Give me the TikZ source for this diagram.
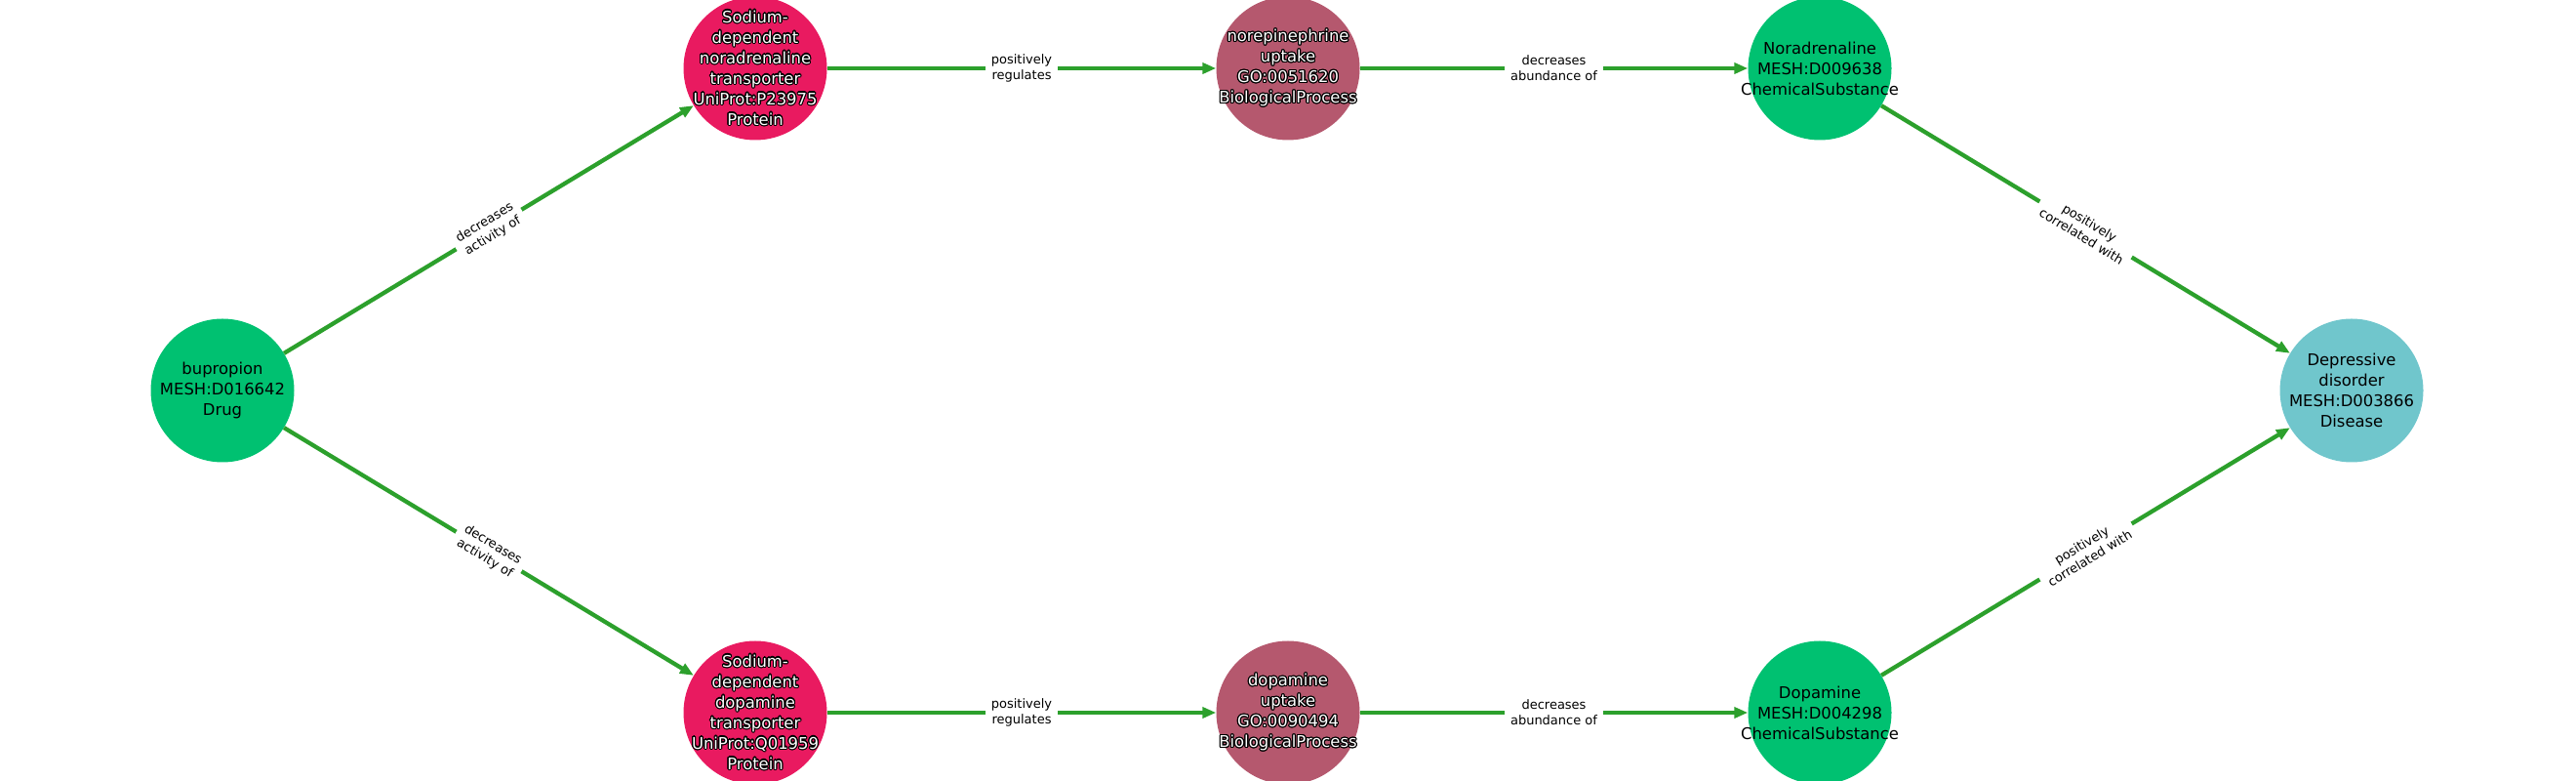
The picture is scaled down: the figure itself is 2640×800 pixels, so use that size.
\documentclass[tikz,border=0pt]{standalone}
\usepackage{fontspec}
\setmainfont{DejaVu Sans}
\usepackage{contour}
\contourlength{1.1pt}
\usetikzlibrary{arrows.meta}
\definecolor{Chem}{RGB}{0,193,113}
\definecolor{Prot}{RGB}{233,26,96}
\definecolor{Proc}{RGB}{181,88,110}
\definecolor{Dis}{RGB}{112,198,204}
\definecolor{Edge}{RGB}{44,160,44}
\newcommand{\wt}[1]{\contour{black}{#1}}

\begin{document}
\begin{tikzpicture}[x=1pt,y=1pt,
    ent/.style={circle,minimum size=147pt,inner sep=0pt},
    txt/.style={align=center,font=\fontsize{16.4}{21}\selectfont},
    wtxt/.style={txt,text=white},
    rel/.style={draw=Edge,line width=4.3pt,-{Triangle[length=14pt,width=11pt]}},
    lab/.style={fill=white,inner xsep=6pt,inner ysep=1pt,align=center,sloped,
      font=\fontsize{13}{16}\selectfont}]
    \useasboundingbox (0,0) rectangle (2640,800);
    \node[ent,fill=Chem] (bup) at (228,400) {};
    \node[ent,fill=Prot] (net) at (774,730) {};
    \node[ent,fill=Proc] (neu) at (1320,730) {};
    \node[ent,fill=Chem] (nor) at (1865,730) {};
    \node[ent,fill=Dis] (dep) at (2410,400) {};
    \node[ent,fill=Prot] (dat) at (774,70) {};
    \node[ent,fill=Proc] (dau) at (1320,70) {};
    \node[ent,fill=Chem] (dop) at (1865,70) {};
    \draw[rel] (bup) -- node[lab] {decreases\\activity of} (net);
    \draw[rel] (bup) -- node[lab] {decreases\\activity of} (dat);
    \foreach \a/\b/\lab in {net/neu/positively\\regulates, neu/nor/decreases\\abundance of,
      dat/dau/positively\\regulates, dau/dop/decreases\\abundance of,
      nor/dep/positively\\correlated with, dop/dep/positively\\correlated with}
      \draw[rel] (\a) -- node[lab] {\lab} (\b);
    \node[txt] (bupt) at (bup) {bupropion\\MESH:D016642\\Drug};
    \node[wtxt] (nett) at (net)
      {\wt{Sodium-}\\\wt{dependent}\\\wt{noradrenaline}\\\wt{transporter}\\\wt{UniProt:P23975}\\\wt{Protein}};
    \node[wtxt] (neut) at (neu)
      {\wt{norepinephrine}\\\wt{uptake}\\\wt{GO:0051620}\\\wt{BiologicalProcess}};
    \node[txt] (nort) at (nor) {Noradrenaline\\MESH:D009638\\ChemicalSubstance};
    \node[txt] (dept) at (dep) {Depressive\\disorder\\MESH:D003866\\Disease};
    \node[wtxt] (datt) at (dat)
      {\wt{Sodium-}\\\wt{dependent}\\\wt{dopamine}\\\wt{transporter}\\\wt{UniProt:Q01959}\\\wt{Protein}};
    \node[wtxt] (daut) at (dau)
      {\wt{dopamine}\\\wt{uptake}\\\wt{GO:0090494}\\\wt{BiologicalProcess}};
    \node[txt] (dopt) at (dop) {Dopamine\\MESH:D004298\\ChemicalSubstance};
  \end{tikzpicture}
\end{document}
